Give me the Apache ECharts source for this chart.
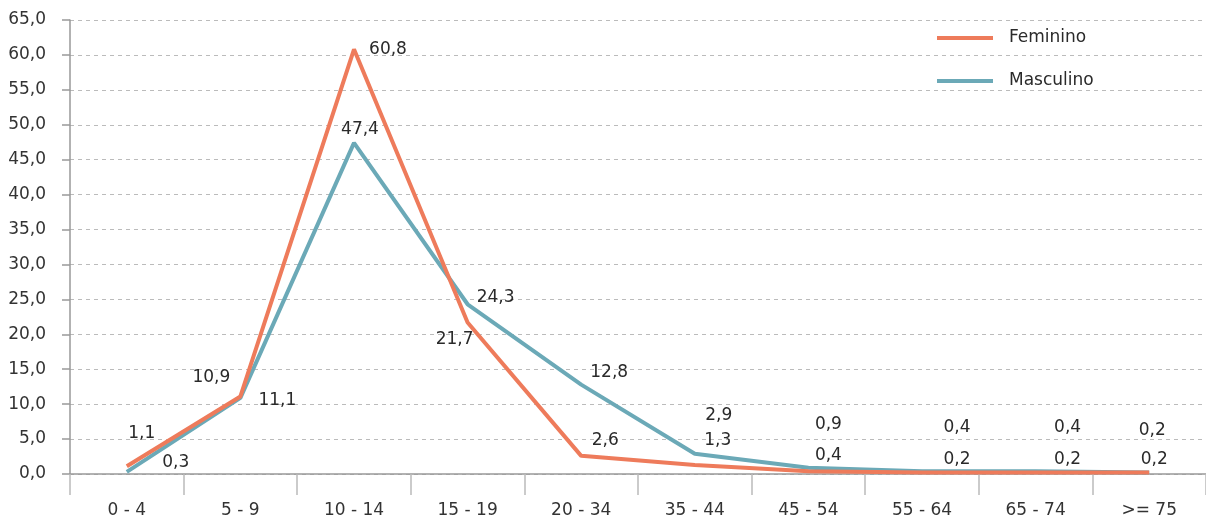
<!DOCTYPE html>
<html>
<head>
<meta charset="utf-8">
<script src="https://cdn.jsdelivr.net/npm/echarts@6/dist/echarts.min.js"></script>
<style>html,body{margin:0;padding:0;background:#fff}#c{width:1206px;height:521px}</style>
</head>
<body>
<div id="c"></div>
<script>
var categories = ['0 - 4','5 - 9','10 - 14','15 - 19','20 - 34','35 - 44','45 - 54','55 - 64','65 - 74','>= 75'];
var feminino = [1.1, 11.1, 60.8, 21.7, 2.6, 1.3, 0.4, 0.2, 0.2, 0.2];
var masculino = [0.3, 10.9, 47.4, 24.3, 12.8, 2.9, 0.9, 0.4, 0.4, 0.2];
var yTicks = { min: 0, max: 65, interval: 5 };

var femLabelOffsets = [[15,-33],[37,4],[34,0],[-13,17],[24,-15],[23,-24],[20,-16],[35,-13],[32,-13],[5,-13]];
var mascLabelOffsets = [[49,-9],[-29,-20],[6,-13],[28,-7],[28,-12],[24,-38],[20,-43],[35,-44],[32,-44],[3,-42]];

var FONT = '"DejaVu Sans", "Liberation Sans", Arial, sans-serif';
var FS = 17;
function fmt(v){ return Number(v).toFixed(1).replace('.', ','); }
function buildData(vals, offs){
  return vals.map(function(v, i){
    return { value: v, label: { offset: offs[i] } };
  });
}
function series(name, vals, offs, color){
  return {
    name: name, type: 'line', data: buildData(vals, offs),
    symbol: 'circle', symbolSize: 0.1, showSymbol: true,
    itemStyle: { color: color },
    lineStyle: { color: color, width: 4 },
    emphasis: { disabled: true },
    label: {
      show: true, position: 'inside', color: '#2a2a2a',
      fontFamily: FONT, fontSize: FS,
      formatter: function(p){ return fmt(p.value); }
    },
    z: name === 'Feminino' ? 3 : 2
  };
}
var chart = echarts.init(document.getElementById('c'));
chart.setOption({
  animation: false,
  backgroundColor: '#fff',
  grid: { left: 70, right: 0, top: 20, bottom: 47, containLabel: false },
  legend: {
    orient: 'vertical', left: 937, top: 28, padding: 0,
    itemWidth: 56, itemHeight: 4, itemGap: 23, icon: 'rect',
    textStyle: { fontFamily: FONT, fontSize: FS, color: '#2a2a2a', lineHeight: 20, padding: [0,0,0,11] },
    data: ['Feminino', 'Masculino']
  },
  xAxis: {
    type: 'category', data: categories, boundaryGap: true,
    axisLine: { lineStyle: { color: '#999', width: 1.5 } },
    axisTick: { show: true, length: 21, lineStyle: { color: '#bbb', width: 1.5 } },
    axisLabel: { fontFamily: FONT, fontSize: FS, color: '#333', margin: 28 },
    splitLine: { show: false }
  },
  yAxis: {
    type: 'value', min: yTicks.min, max: yTicks.max, interval: yTicks.interval,
    axisLine: { show: true, lineStyle: { color: '#999', width: 1.5 } },
    axisTick: { show: true, inside: false, length: 8, lineStyle: { color: '#999', width: 1.5 } },
    axisLabel: { fontFamily: FONT, fontSize: FS, color: '#333', margin: 24, formatter: fmt },
    splitLine: { show: true, lineStyle: { color: '#bbb', type: [4, 4], width: 1 } }
  },
  series: [
    series('Feminino', feminino, femLabelOffsets, '#EE7B5B'),
    series('Masculino', masculino, mascLabelOffsets, '#6BA9B7')
  ]
});
</script>
</body>
</html>
